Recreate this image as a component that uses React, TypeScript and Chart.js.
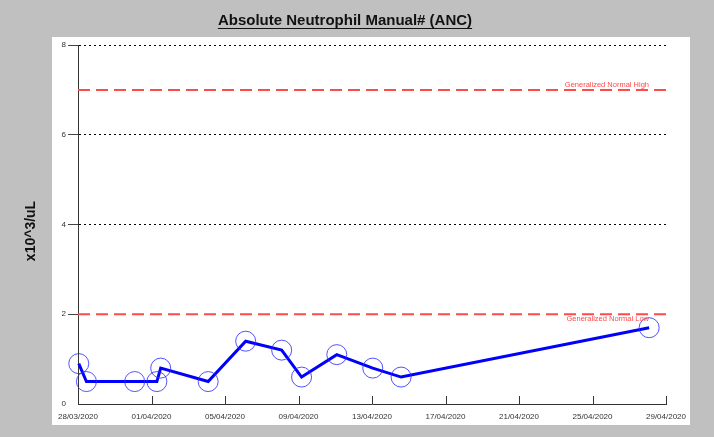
import React, { useEffect, useRef } from 'react';
import { Chart, registerables } from 'chart.js';

Chart.register(...registerables);

const chartTitle = 'Absolute Neutrophil Manual# (ANC)';
const yAxisTitle = 'x10^3/uL';
const startDate = '2020-03-28';
const endDate = '2020-04-29';
const xTickStepDays = 4;
const yTickValues = [0, 2, 4, 6, 8];

const sampleTimes = [
  '2020-03-28T01:00',
  '2020-03-28T11:00',
  '2020-03-31T02:00',
  '2020-04-01T07:00',
  '2020-04-01T12:00',
  '2020-04-04T02:00',
  '2020-04-06T03:00',
  '2020-04-08T02:00',
  '2020-04-09T04:00',
  '2020-04-11T02:00',
  '2020-04-13T01:00',
  '2020-04-14T14:00',
  '2020-04-28T02:00',
];
const ancValues = [0.9, 0.5, 0.5, 0.5, 0.8, 0.5, 1.4, 1.2, 0.6, 1.1, 0.8, 0.6, 1.7];

const normalHigh = 7;
const normalLow = 2;
const normalHighLabel = 'Generalized Normal High';
const normalLowLabel = 'Generalized Normal Low';

const DAY = 86400000;
const baseMs = Date.parse(startDate + 'T00:00:00Z');
const toDay = (s: string) => (Date.parse(s + ':00Z') - baseMs) / DAY;
const maxDay = (Date.parse(endDate + 'T00:00:00Z') - baseMs) / DAY;
const pad2 = (n: number) => (n < 10 ? '0' : '') + n;
const fmtDay = (v: number) => {
  const d = new Date(baseMs + v * DAY);
  return pad2(d.getUTCDate()) + '/' + pad2(d.getUTCMonth() + 1) + '/' + d.getUTCFullYear();
};

const FONT = '"Liberation Sans", Arial, sans-serif';
const RED = '#ff4a4a';

const decorPlugin = {
  id: 'decor',
  beforeDraw(chart: any) {
    const { ctx, width, height } = chart;
    ctx.save();
    ctx.fillStyle = '#c0c0c0';
    ctx.fillRect(0, 0, width, height);
    ctx.fillStyle = '#ffffff';
    ctx.fillRect(52, 37, 638, 388);
    // title
    ctx.font = 'bold 15px ' + FONT;
    ctx.fillStyle = '#111';
    ctx.textAlign = 'center';
    ctx.textBaseline = 'alphabetic';
    const tx = 345;
    ctx.fillText(chartTitle, tx, 25);
    const w = ctx.measureText(chartTitle).width;
    ctx.strokeStyle = '#111';
    ctx.lineWidth = 1;
    ctx.beginPath();
    ctx.moveTo(tx - w / 2, 28.5);
    ctx.lineTo(tx + w / 2, 28.5);
    ctx.stroke();
    // y title
    ctx.translate(31, 231);
    ctx.rotate(-Math.PI / 2);
    ctx.font = 'bold 14px ' + FONT;
    ctx.textBaseline = 'middle';
    ctx.fillText(yAxisTitle, 0, 0);
    ctx.restore();
  },
  afterDraw(chart: any) {
    const { ctx, chartArea } = chart;
    const xs = chart.scales.x;
    const ys = chart.scales.y;
    ctx.save();
    // inner x ticks
    ctx.strokeStyle = '#333';
    ctx.lineWidth = 1;
    xs.ticks.forEach((t: any) => {
      if (t.value === 0) return;
      const px = Math.round(xs.getPixelForValue(t.value)) + 0.5;
      ctx.beginPath();
      ctx.moveTo(px, chartArea.bottom);
      ctx.lineTo(px, chartArea.bottom - 8);
      ctx.stroke();
    });
    // reference labels
    ctx.font = '7.5px ' + FONT;
    ctx.fillStyle = RED;
    ctx.textAlign = 'right';
    const rx = chartArea.right - 17;
    ctx.textBaseline = 'bottom';
    ctx.fillText(normalHighLabel, rx, ys.getPixelForValue(normalHigh) - 1);
    ctx.textBaseline = 'top';
    ctx.fillText(normalLowLabel, rx, ys.getPixelForValue(normalLow) + 1);
    ctx.restore();
  },
};

export default function App() {
  const ref = useRef<HTMLCanvasElement>(null);
  useEffect(() => {
    if (!ref.current) return;
    const points = sampleTimes.map((t, i) => ({ x: toDay(t), y: ancValues[i] }));
    const refLine = (v: number) => [
      { x: 0, y: v },
      { x: maxDay, y: v },
    ];
    const chart = new Chart(ref.current, {
      type: 'line',
      data: {
        datasets: [
          {
            label: 'ANC',
            data: points,
            borderColor: '#0000ff',
            borderWidth: 3,
            pointRadius: 10,
            pointBorderWidth: 1,
            pointBorderColor: 'rgba(40,40,255,0.8)',
            pointBackgroundColor: 'rgba(0,0,0,0)',
            tension: 0,
            clip: false,
            order: 0,
          } as any,
          {
            label: normalHighLabel,
            data: refLine(normalHigh),
            borderColor: RED,
            borderWidth: 2,
            borderDash: [12, 6],
            pointRadius: 0,
            order: 1,
          },
          {
            label: normalLowLabel,
            data: refLine(normalLow),
            borderColor: RED,
            borderWidth: 2,
            borderDash: [12, 6],
            pointRadius: 0,
            order: 1,
          },
        ],
      },
      options: {
        responsive: false,
        animation: false,
        devicePixelRatio: 1,
        layout: { padding: { left: 0, right: 48, top: 45, bottom: 0 } },
        plugins: {
          legend: { display: false },
          title: { display: false },
          tooltip: { enabled: false },
        },
        scales: {
          x: {
            type: 'linear',
            min: 0,
            max: maxDay,
            afterFit: (s: any) => {
              s.height = 33;
            },
            grid: { display: true, drawOnChartArea: false, drawTicks: false },
            border: { display: true, color: '#333', width: 1 },
            ticks: {
              stepSize: xTickStepDays,
              autoSkip: false,
              maxRotation: 0,
              padding: 8,
              color: '#333',
              font: { family: FONT, size: 8 },
              callback: (v: any) => fmtDay(Number(v)),
            },
          },
          y: {
            type: 'linear',
            min: 0,
            max: 8,
            afterFit: (s: any) => {
              s.width = 78;
            },
            afterBuildTicks: (s: any) => {
              s.ticks = yTickValues.map((v) => ({ value: v }));
            },
            grid: {
              color: (c: any) => (c.tick && (c.tick.value === 0 || c.tick.value === normalLow) ? 'rgba(0,0,0,0)' : '#000'),
              tickColor: (c: any) => (c.tick && c.tick.value === 0 ? 'rgba(0,0,0,0)' : '#444'),
              tickLength: 10,
              tickBorderDash: [],
              lineWidth: 1,
            } as any,
            border: { display: true, color: '#333', width: 1, dash: [2, 3] },
            ticks: {
              padding: 2,
              color: '#333',
              font: { family: FONT, size: 8 },
            },
          },
        },
      },
      plugins: [decorPlugin],
    });
    return () => chart.destroy();
  }, []);
  return (
    <div style={{ position: 'absolute', left: 0, top: 0, width: 714, height: 437 }}>
      <canvas ref={ref} width={714} height={437} style={{ display: 'block' }} />
    </div>
  );
}
